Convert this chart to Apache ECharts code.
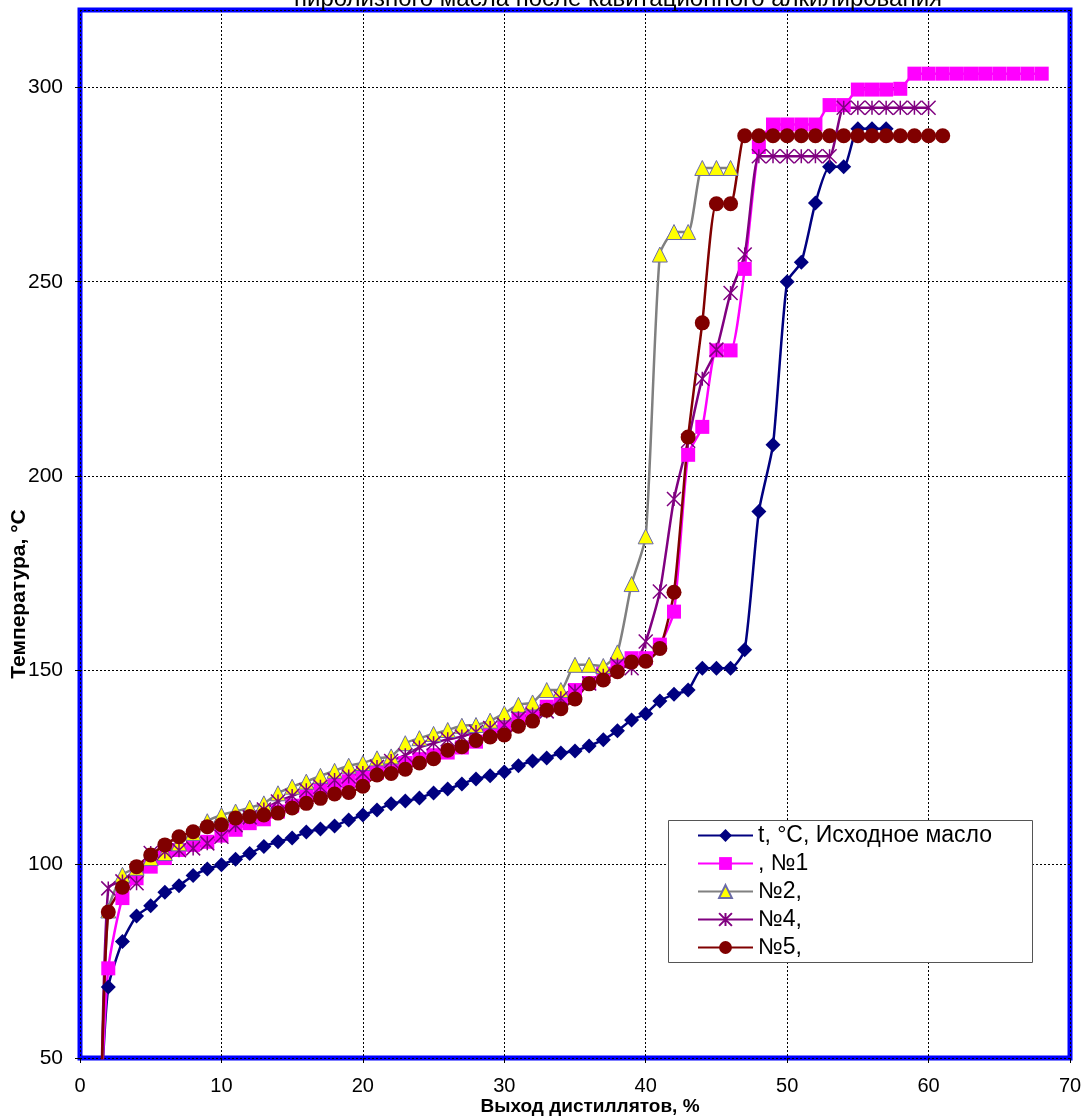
<!DOCTYPE html>
<html>
<head>
<meta charset="utf-8">
<script src="https://cdn.jsdelivr.net/npm/echarts@6/dist/echarts.min.js"></script>
<style>
html,body{margin:0;padding:0;background:#fff;}
#chart{width:1088px;height:1119px;}
</style>
</head>
<body>
<div id="chart"></div>
<script>
// Distillate yield, % (shared x positions; each series uses the first N of them)
const distillX = [1.5, 2, 3, 4, 5, 6, 7, 8, 9, 10, 11, 12, 13, 14, 15, 16, 17, 18, 19, 20,
  21, 22, 23, 24, 25, 26, 27, 28, 29, 30, 31, 32, 33, 34, 35, 36, 37, 38, 39, 40,
  41, 42, 43, 44, 45, 46, 47, 48, 49, 50, 51, 52, 53, 54, 55, 56, 57, 58, 59, 60,
  61, 62, 63, 64, 65, 66, 67, 68];

const seriesNames = ['t, °C, Исходное масло', ', №1', '№2, ', '№4, ', '№5, '];

// Initial oil
const tInitial = [40, 68.3, 80, 86.6, 89.2, 92.7, 94.4, 97, 98.7, 99.8, 101.2, 102.7, 104.5, 105.7, 106.7, 108.2, 109, 109.8, 111.3, 112.6,
  113.9, 115.5, 116.2, 117, 118.3, 119.3, 120.6, 121.9, 122.7, 123.7, 125.3, 126.5, 127.3, 128.6, 129.1, 130.4, 132, 134.3, 137.1, 138.7,
  142, 143.7, 144.8, 150.4, 150.4, 150.4, 155.2, 190.8, 208, 250, 255, 270.3, 279.6, 279.6, 289.4, 289.4, 289.4];

// №1
const tNo1 = [40, 73.1, 91.2, 96.3, 99.3, 101.5, 103.6, 104.9, 105.7, 107.3, 108.8, 110.5, 111.5, 113.5, 115, 117.3, 119, 120.3, 121.3, 122.5,
  123.5, 124.5, 126, 127, 128, 128.7, 130, 131.5, 133.5, 135.5, 137.5, 139, 140.5, 142, 144.8, 146.6, 149, 151.5, 153, 153,
  156.5, 165, 205.4, 212.6, 232.3, 232.3, 253.3, 284.7, 290.5, 290.5, 290.5, 290.5, 295.5, 295.5, 299.5, 299.5, 299.5, 299.7, 303.6, 303.6,
  303.6, 303.6, 303.6, 303.6, 303.6, 303.6, 303.6, 303.6];

// №2
const tNo2 = [40, 88, 97.2, 99, 101.5, 102.8, 105.3, 108, 111, 112.6, 113.5, 114.5, 115.6, 118.2, 119.9, 121.2, 122.7, 124, 125.3, 126,
  127.2, 127.7, 131.1, 132.4, 133.5, 134.5, 135.6, 135.8, 136.9, 138.8, 141, 141.6, 144.8, 144.8, 151.3, 151.3, 151, 154.5, 172.1, 184.4,
  257, 262.8, 262.8, 279.3, 279.3, 279.3];

// №4
const tNo4 = [40, 93.7, 95.5, 95, 102.8, 103.2, 103.5, 104, 105.3, 107, 110, 112, 114, 116.1, 117.5, 119, 119.9, 121.6, 122.5, 123.4,
  125, 126.5, 128, 130, 131.1, 132.1, 132.8, 134, 135, 135.8, 137.5, 138.5, 139.3, 142.7, 144.5, 146.5, 148.5, 151.3, 150.4, 157.3,
  170.2, 194, 209, 225, 232.5, 247.1, 257, 282.3, 282.3, 282.3, 282.3, 282.3, 282.3, 294.8, 294.8, 294.8, 294.8, 294.8, 294.8, 294.8];

// №5
const tNo5 = [40, 87.6, 94, 99.3, 102.3, 104.9, 107, 108.3, 109.6, 110.1, 111.8, 112.2, 112.6, 113.1, 114.4, 115.6, 116.9, 118, 118.4, 120,
  122.9, 123.3, 124.4, 126, 127.1, 129.3, 130.2, 131.8, 132.7, 133.2, 135.5, 136.8, 139.6, 140, 142.5, 146.4, 147.4, 149.5, 152, 152.2,
  155.5, 170, 210, 239.4, 270.1, 270.1, 287.6, 287.6, 287.6, 287.6, 287.6, 287.6, 287.6, 287.6, 287.6, 287.6, 287.6, 287.6, 287.6, 287.6,
  287.6];

const xTicks = [0, 10, 20, 30, 40, 50, 60, 70];
const yTicks = [50, 100, 150, 200, 250, 300];

function pairs(ys) { return ys.map((y, i) => [distillX[i], y]); }

const FONT = '"Liberation Sans", Arial, sans-serif';
const chart = echarts.init(document.getElementById('chart'), null, {renderer: 'canvas'});

const asterisk = 'path://M0 0L10 10M10 0L0 10M5 0L5 10';

const option = {
  backgroundColor: '#ffffff',
  animation: false,
  title: {
    text: 'пиролизного масла после кавитационного алкилирования',
    left: 289, top: -18,
    textStyle: {fontFamily: FONT, fontSize: 24, fontWeight: 'normal', color: '#000'}
  },
  grid: {
    left: 80, right: 18, top: 10, bottom: 61,
    show: true, borderColor: '#0000ff', borderWidth: 5, backgroundColor: '#fff'
  },
  xAxis: {
    type: 'value', min: xTicks[0], max: xTicks[xTicks.length - 1], interval: 10,
    axisLine: {show: false},
    axisTick: {show: true, length: 5, lineStyle: {color: '#000'}},
    axisLabel: {fontFamily: FONT, fontSize: 20, color: '#000', margin: 18},
    splitLine: {show: true, lineStyle: {color: '#000', width: 1, type: [2, 2]}}
  },
  yAxis: {
    type: 'value', min: yTicks[0], max: 320, interval: 50,
    axisLine: {show: false},
    axisTick: {show: true, length: 5, lineStyle: {color: '#000'}},
    axisLabel: {fontFamily: FONT, fontSize: 21, color: '#000', margin: 17, showMaxLabel: false,
      formatter: v => (yTicks.indexOf(v) >= 0 ? String(v) : '')},
    splitLine: {show: true, lineStyle: {color: '#000', width: 1, type: [2, 2]}}
  },
  graphic: [
    {
      type: 'rect', left: 668, top: 820, z: 3,
      shape: {width: 364, height: 142},
      style: {fill: '#fff', stroke: '#555', lineWidth: 1}
    },
    {
      type: 'text', z: 5, x: 590, y: 1107,
      style: {text: 'Выход дистиллятов, %', font: 'bold 19px "Liberation Sans", Arial, sans-serif',
        fill: '#000', textAlign: 'center', textVerticalAlign: 'middle'}
    },
    {
      type: 'text', z: 5, x: 19, y: 594, rotation: Math.PI / 2,
      style: {text: 'Температура, °С', font: 'bold 21px "Liberation Sans", Arial, sans-serif',
        fill: '#000', textAlign: 'center', textVerticalAlign: 'middle'}
    }
  ],
  legend: {
    orient: 'vertical', left: 692, top: 819, z: 5,
    itemWidth: 55, itemHeight: 16, itemGap: 5,
    textStyle: {fontFamily: FONT, fontSize: 23, color: '#000'},
    data: seriesNames
  },
  series: [
    {
      name: seriesNames[0], type: 'line', data: pairs(tInitial), smooth: 0.2, clip: true,
      symbol: 'diamond', symbolSize: 15,
      lineStyle: {color: '#000080', width: 2.5},
      itemStyle: {color: '#000080', borderColor: '#000080', borderWidth: 0}
    },
    {
      name: seriesNames[1], type: 'line', data: pairs(tNo1), smooth: 0.2, clip: true,
      symbol: 'rect', symbolSize: 14,
      lineStyle: {color: '#ff00ff', width: 2.5},
      itemStyle: {color: '#ff00ff', borderColor: '#ff00ff', borderWidth: 0}
    },
    {
      name: seriesNames[2], type: 'line', data: pairs(tNo2), smooth: 0.2, clip: true,
      symbol: 'triangle', symbolSize: 15,
      lineStyle: {color: '#808080', width: 2.5},
      itemStyle: {color: '#ffff00', borderColor: '#6a6aa8', borderWidth: 1}
    },
    {
      name: seriesNames[3], type: 'line', data: pairs(tNo4), smooth: 0.2, clip: true,
      symbol: asterisk, symbolSize: 14,
      lineStyle: {color: '#800080', width: 2.5},
      itemStyle: {color: '#800080', borderColor: '#800080', borderWidth: 1.5}
    },
    {
      name: seriesNames[4], type: 'line', data: pairs(tNo5), smooth: 0.2, clip: true,
      symbol: 'circle', symbolSize: 15,
      lineStyle: {color: '#800000', width: 2.5},
      itemStyle: {color: '#800000', borderColor: '#800000', borderWidth: 0}
    }
  ]
};
chart.setOption(option);
</script>
</body>
</html>
